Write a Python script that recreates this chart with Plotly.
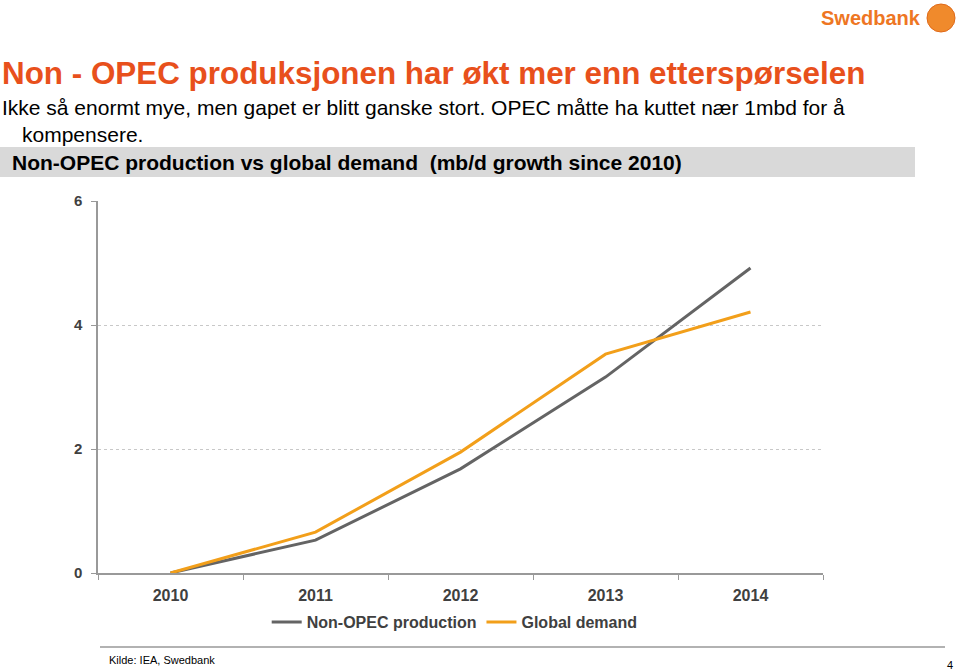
import plotly.graph_objects as go

years = ["2010", "2011", "2012", "2013", "2014"]
non_opec = [0.0, 0.53, 1.68, 3.16, 4.92]
global_demand = [0.0, 0.66, 1.95, 3.53, 4.21]
y_ticks = [0, 2, 4, 6]

FONT = "Liberation Sans, Arial, sans-serif"

fig = go.Figure()
fig.add_trace(go.Scatter(x=years, y=non_opec, mode="lines", name="Non-OPEC production",
                         line=dict(color="#646464", width=3)))
fig.add_trace(go.Scatter(x=years, y=global_demand, mode="lines", name="Global demand",
                         line=dict(color="#F29F1A", width=3)))

fig.update_layout(
    width=960, height=672,
    margin=dict(l=98, r=137, t=201, b=99),
    paper_bgcolor="white", plot_bgcolor="white",
    font=dict(family=FONT, color="#404040"),
    showlegend=True,
    legend=dict(orientation="h", x=0.492, xanchor="center", y=-0.132, yanchor="middle",
                font=dict(size=16, color="#404040", family=FONT, weight="bold"),
                itemwidth=30, bgcolor="rgba(0,0,0,0)"),
    xaxis=dict(type="category", tickson="boundaries", showgrid=False, showline=True,
               linecolor="#999999", linewidth=1.5, ticks="outside", ticklen=5, tickcolor="#999999",
               tickfont=dict(size=16, color="#404040", family=FONT, weight="bold"), range=[-0.5, 4.5],
               ticklabelstandoff=7, zeroline=False),
    yaxis=dict(range=[0, 6], tickvals=y_ticks, showgrid=True, gridcolor="#c8c8c8",
               griddash="dot", gridwidth=1, showline=True, linecolor="#999999", linewidth=1.5,
               ticks="outside", ticklen=5, tickcolor="#999999", zeroline=False, ticklabelstandoff=6,
               tickfont=dict(size=15, color="#404040", family=FONT, weight="bold")),
)

# Header texts
fig.add_annotation(xref="paper", yref="paper", x=-98/725, y=(573-73)/372, xanchor="left", yanchor="middle",
                   text="<b>Non - OPEC produksjonen har økt mer enn etterspørselen</b>", showarrow=False,
                   font=dict(size=31.4, color="#E8501C", family=FONT))
fig.add_annotation(xref="paper", yref="paper", x=-98/725, y=(573-107)/372, xanchor="left", yanchor="middle",
                   text="Ikke så enormt mye, men gapet er blitt ganske stort. OPEC måtte ha kuttet nær 1mbd for å",
                   showarrow=False, font=dict(size=21, color="#000000", family=FONT))
fig.add_annotation(xref="paper", yref="paper", x=-78/725, y=(573-135)/372, xanchor="left", yanchor="middle",
                   text="kompensere.", showarrow=False, font=dict(size=21, color="#000000", family=FONT))

# Grey band
fig.add_shape(type="rect", xref="paper", yref="paper", x0=-98/725, x1=(915-98)/725,
              y0=(573-177)/372, y1=(573-147)/372, fillcolor="#D9D9D9", line=dict(width=0), layer="below")
fig.add_annotation(xref="paper", yref="paper", x=-88/725, y=(573-162)/372, xanchor="left", yanchor="middle",
                   text="<b>Non-OPEC production vs global demand  (mb/d growth since 2010)</b>", showarrow=False,
                   font=dict(size=21, color="#000000", family=FONT))

# Logo
fig.add_annotation(xref="paper", yref="paper", x=(923-98)/725, y=(573-18)/372, xanchor="right", yanchor="middle",
                   text="<b>Swedbank</b>", showarrow=False, font=dict(size=20, color="#EE7623", family=FONT))
fig.add_shape(type="circle", xref="paper", yref="paper", x0=(927-98)/725, x1=(955-98)/725,
              y0=(573-32)/372, y1=(573-4)/372, fillcolor="#F08A2C", line=dict(color="#E06A1A", width=1))

# Footer
fig.add_shape(type="line", xref="paper", yref="paper", x0=2/725, x1=(945-98)/725,
              y0=(573-647)/372, y1=(573-647)/372, line=dict(color="#999999", width=1.5))
fig.add_annotation(xref="paper", yref="paper", x=9/725, y=(573-660)/372, xanchor="left", yanchor="middle",
                   text="Kilde: IEA, Swedbank", showarrow=False, font=dict(size=11, color="#000000", family=FONT))
fig.add_annotation(xref="paper", yref="paper", x=(950-98)/725, y=(573-665)/372, xanchor="center", yanchor="middle",
                   text="4", showarrow=False, font=dict(size=11, color="#000000", family=FONT))

fig.write_html("out.html", config={"displayModeBar": False},
               post_script="document.body.style.margin='0';document.body.style.overflow='hidden';")
